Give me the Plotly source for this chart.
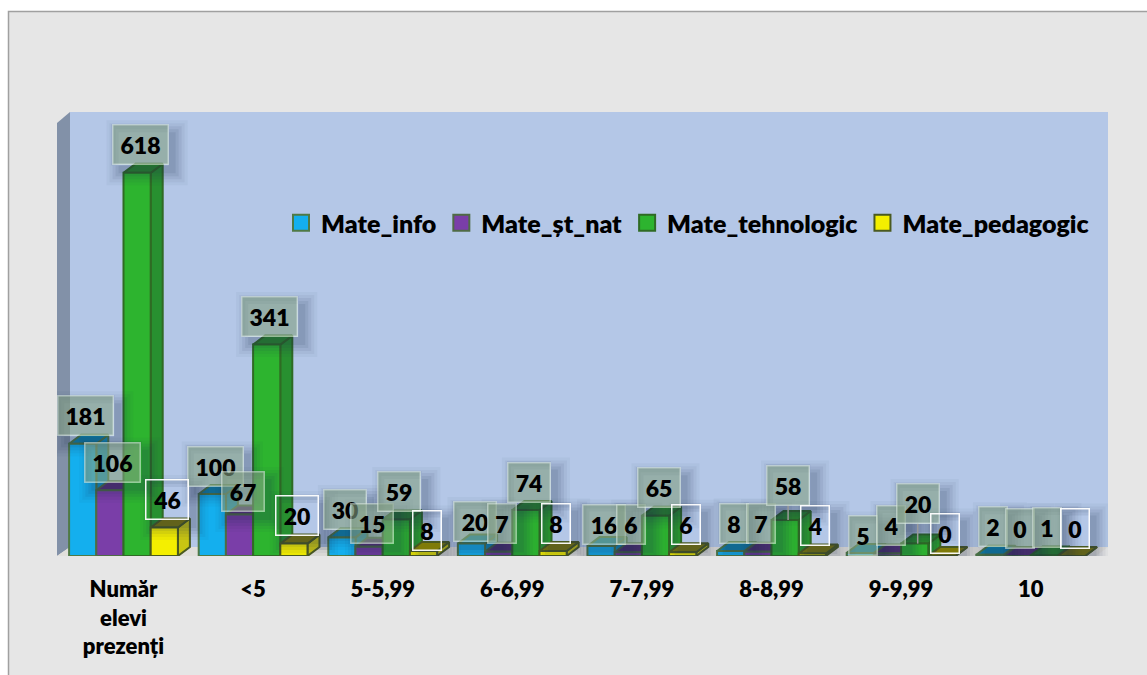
import plotly.graph_objects as go

# ---- data ----
categories = ["Număr<br>elevi<br>prezenți", "<5", "5-5,99", "6-6,99", "7-7,99", "8-8,99", "9-9,99", "10"]
mate_info = [181, 100, 30, 20, 16, 8, 5, 2]
mate_st_nat = [106, 67, 15, 7, 6, 7, 4, 0]
mate_tehnologic = [618, 341, 59, 74, 65, 58, 20, 1]
mate_pedagogic = [46, 20, 8, 8, 6, 4, 0, 0]
series_names = ["Mate_info", "Mate_șt_nat", "Mate_tehnologic", "Mate_pedagogic"]

# ---- layout constants (pixels in the window) ----
W, H = 1147, 675
L, R, T, B = 57, 1108, 112, 556
CAT_PX, VAL_PX = 129.6, 0.62
X0_PX = 123.5
DX, DY = 12 / CAT_PX, 9 / VAL_PX
BAR_W = 27.2 / CAT_PX
FONT = "Lato"
INK = "#000000"

series = [mate_info, mate_st_nat, mate_tehnologic, mate_pedagogic]
front = ["#14AFEE", "#7A3EA8", "#2DB42F", "#F4EF00"]
side = ["#0F92C4", "#5F3186", "#289030", "#C9C512"]
top = ["#0E84AE", "#58307A", "#2A8A2C", "#7F7B08"]
edge = ["#4F7A45", "#4F6B45", "#2F6B24", "#4A5A20"]

# label offsets above the bar top, in pixels (default 28)
label_up = {(2, 5): 35, (2, 6): 40, (0, 6): 17, (1, 1): 23, (1, 2): 23, (0, 3): 22, (0, 4): 22,
            (3, 2): 21, (3, 6): 23, (3, 3): 28}
fills = ["rgba(130,158,130,0.6)"] * 3 + ["rgba(0,0,0,0)"]
borders = ["rgba(225,238,232,0.55)"] * 3 + ["rgba(255,255,255,0.95)"]


def px(x):
    return (x - L) / (R - L)


def py(y):
    return (B - y) / (B - T)


fig = go.Figure()

# 3D faces, left to right, behind the front planes
for s, vals in enumerate(series):
    sx, sy, tx, ty = [], [], [], []
    for c, v in enumerate(vals):
        xl = c + (s - 2) * BAR_W
        xr = xl + BAR_W
        sx += [xr, xr + DX, xr + DX, xr, xr, None]
        sy += [0, DY, v + DY, v, 0, None]
        tx += [xl, xl + DX, xr + DX, xr, xl, None]
        ty += [v, v + DY, v + DY, v, v, None]
    for xs, ys, col in ((sx, sy, side[s]), (tx, ty, top[s])):
        fig.add_trace(go.Scatter(x=xs, y=ys, mode="lines", fill="toself", fillcolor=col,
                                 line=dict(color=edge[s], width=2), hoverinfo="skip",
                                 showlegend=False, zorder=0, cliponaxis=False))

# front faces
for s, vals in enumerate(series):
    fig.add_trace(go.Bar(x=list(range(len(categories))), y=vals, name=series_names[s],
                         marker=dict(color=front[s], line=dict(color=edge[s], width=2)),
                         showlegend=False, zorder=1, cliponaxis=False))

# legend entries
for s, name in enumerate(series_names):
    fig.add_trace(go.Scatter(x=[None], y=[None], mode="markers", name=name,
                             marker=dict(symbol="square", size=16, color=front[s],
                                         line=dict(color=edge[s], width=2))))

shapes = [
    # chart area with grey frame
    dict(type="rect", xref="paper", yref="paper", x0=px(8.5), x1=px(1160), y0=py(11.5), y1=py(690),
         fillcolor="#E6E6E6", line=dict(color="#A0A0A0", width=1.5), layer="below"),
    # back wall
    dict(type="rect", xref="paper", yref="paper", x0=px(70), x1=px(R), y0=py(T), y1=py(547),
         fillcolor="#B4C7E7", line=dict(width=0), layer="below"),
    # side wall
    dict(type="path", xref="paper", yref="paper", layer="below", fillcolor="#8291A8", line=dict(width=0),
         path=f"M{px(57)},{py(123)}L{px(70)},{py(T)}L{px(70)},{py(547)}L{px(57)},{py(B)}Z"),
    # floor
    dict(type="path", xref="paper", yref="paper", layer="below", fillcolor="#E1DFDB", line=dict(width=0),
         path=f"M{px(57)},{py(B)}L{px(70)},{py(547)}L{px(R)},{py(547)}L{px(1096)},{py(B)}Z"),
]

annotations = []
for s, vals in enumerate(series):
    for c, v in enumerate(vals):
        xc = c + (s - 1.5) * BAR_W
        up = label_up.get((s, c), 28)
        w = {1: 30, 2: 44, 3: 57}[len(str(v))]
        h = 41
        # soft shadow around the label box, anchored on the bar value
        for grow, op in ((12, 0.04), (9, 0.05), (6, 0.07), (3, 0.08), (0, 0.09)):
            ox, oy = 7, -8
            x0, x1 = ox - w / 2 - grow + 3, ox + w / 2 + grow + 3
            y0, y1 = up + oy - h / 2 - grow, up + oy + h / 2 + grow
            a0, a1, b0, b1 = 3 - w / 2, 3 + w / 2, up - h / 2, up + h / 2
            path = (f"M{x0},{y0}L{x1},{y0}L{x1},{y1}L{x0},{y1}Z"
                    f"M{a0},{b0}L{a1},{b0}L{a1},{b1}L{a0},{b1}Z")
            shapes.append(dict(type="path", xref="x", yref="y", xsizemode="pixel", ysizemode="pixel",
                               xanchor=xc, yanchor=v, path=path, fillrule="evenodd",
                               fillcolor="#1F2F4F", opacity=op, line=dict(width=0)))
        if up >= 35:
            shapes.append(dict(type="line", xref="x", yref="y", ysizemode="pixel", yanchor=v,
                               x0=xc + 3 / CAT_PX, x1=xc + 3 / CAT_PX, y0=0, y1=up - 20,
                               line=dict(color="#9A9A9A", width=1.5)))
        annotations.append(dict(x=xc, y=v, xref="x", yref="y", text=str(v), showarrow=False,
                                xanchor="center", yanchor="middle", xshift=3, yshift=up,
                                width=w - 3, height=h - 3, align="center", valign="middle",
                                bgcolor=fills[s], bordercolor=borders[s], borderwidth=1.5, borderpad=0,
                                font=dict(family=FONT, size=23, color=INK, weight=800)))

fig.update_layout(
    width=W, height=H, autosize=False,
    margin=dict(l=L, r=W - R, t=T, b=H - B, autoexpand=False),
    paper_bgcolor="#FFFFFF", plot_bgcolor="rgba(0,0,0,0)",
    barmode="group", bargap=1 - 4 * BAR_W, bargroupgap=0,
    showlegend=True,
    legend=dict(orientation="h", x=px(281), y=py(223), xanchor="left", yanchor="middle",
                bgcolor="rgba(0,0,0,0)", font=dict(family=FONT, size=25, color=INK, weight=800),
                itemwidth=30, itemclick=False, itemdoubleclick=False),
    xaxis=dict(range=[(L - X0_PX) / CAT_PX, (R - X0_PX) / CAT_PX], tickmode="array",
               tickvals=list(range(len(categories))), ticktext=categories, ticks="",
               showgrid=False, zeroline=False, showline=False, ticklabelstandoff=18,
               tickfont=dict(family=FONT, size=22, color=INK, weight=800), tickangle=0),
    yaxis=dict(range=[0, (B - T) / VAL_PX], visible=False, showgrid=False, zeroline=False),
    shapes=shapes, annotations=annotations,
)

fig.write_html("out.html", config={"displayModeBar": False},
               post_script="document.body.style.margin='0';document.body.style.overflow='hidden';")
